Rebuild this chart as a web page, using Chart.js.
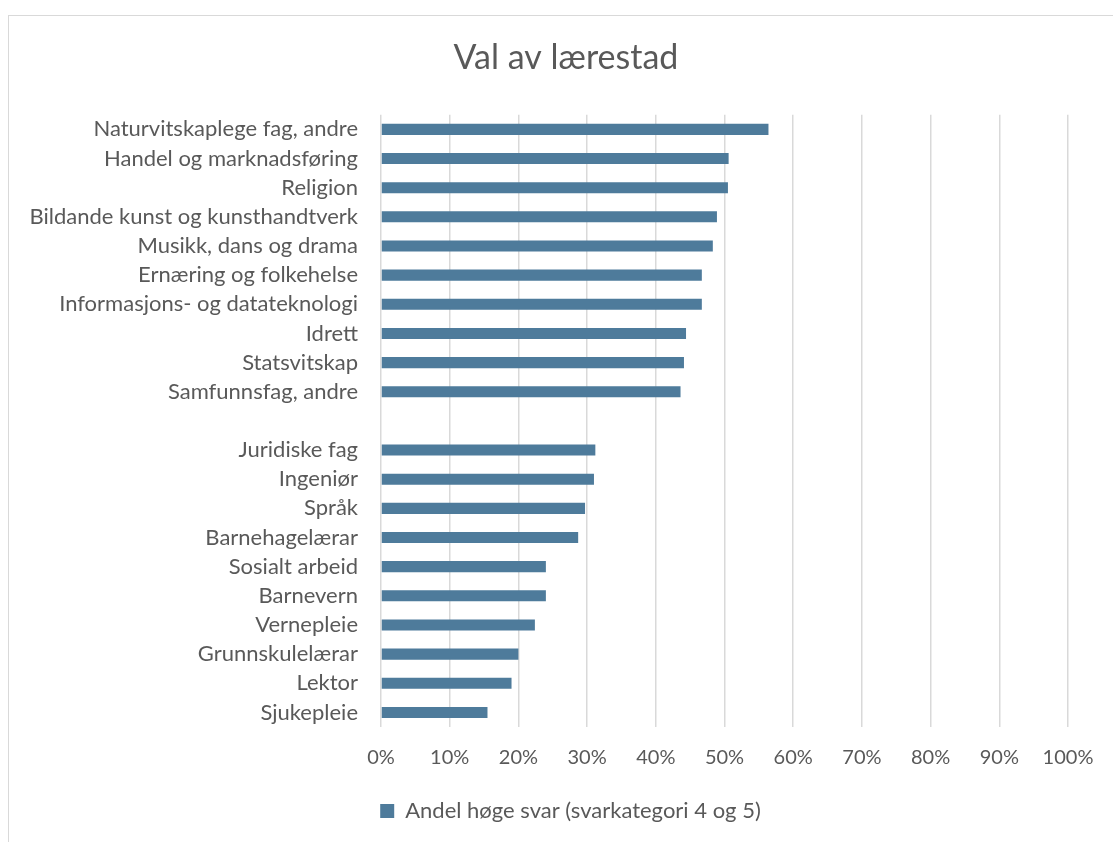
<!DOCTYPE html>
<html>
<head>
<meta charset="utf-8">
<script src="https://cdn.jsdelivr.net/npm/chart.js@4"></script>
<style>
  html, body { margin: 0; padding: 0; background: #fff; overflow: hidden; }
  #wrap { position: absolute; left: 8px; top: 15px; width: 1115px; height: 827px;
          border-left: 1px solid #d9d9d9; border-top: 1px solid #d9d9d9; }
  #c { display: block; }
</style>
</head>
<body>
<div id="wrap"><canvas id="c" width="1114" height="826"></canvas></div>
<script>
const chartTitle = 'Val av lærestad';
const seriesName = 'Andel høge svar (svarkategori 4 og 5)';
const categories = [
  'Naturvitskaplege fag, andre',
  'Handel og marknadsføring',
  'Religion',
  'Bildande kunst og kunsthandtverk',
  'Musikk, dans og drama',
  'Ernæring og folkehelse',
  'Informasjons- og datateknologi',
  'Idrett',
  'Statsvitskap',
  'Samfunnsfag, andre',
  '',
  'Juridiske fag',
  'Ingeniør',
  'Språk',
  'Barnehagelærar',
  'Sosialt arbeid',
  'Barnevern',
  'Vernepleie',
  'Grunnskulelærar',
  'Lektor',
  'Sjukepleie'
];
const values = [56.4, 50.6, 50.5, 48.9, 48.3, 46.7, 46.7, 44.4, 44.1, 43.6,
                null,
                31.2, 31.0, 29.7, 28.7, 24.0, 24.0, 22.4, 20.0, 19.0, 15.5];
const xTicks = [0, 10, 20, 30, 40, 50, 60, 70, 80, 90, 100];

const TEXT = '#595959';
const FONT = 'Lato';

// Center the title and legend on the whole chart box instead of the padded area
const centerBlocks = {
  id: 'centerBlocks',
  afterLayout(chart) {
    const t = chart.titleBlock;
    if (t) { t.left = 0; t.right = chart.width; t.width = chart.width; }
    const l = chart.legend;
    if (l) { l.left = 9; l.right = chart.width; l.width = chart.width - 9; }
  }
};

new Chart(document.getElementById('c'), {
  type: 'bar',
  data: {
    labels: categories,
    datasets: [{
      label: seriesName,
      data: values,
      backgroundColor: '#4e7b9b',
      borderWidth: 0,
      categoryPercentage: 1.0,
      barPercentage: 0.38
    }]
  },
  plugins: [centerBlocks],
  options: {
    indexAxis: 'y',
    responsive: false,
    animation: false,
    devicePixelRatio: 1,
    layout: { padding: { left: 0, right: 55, top: 0, bottom: 10 } },
    plugins: {
      title: {
        display: true,
        text: chartTitle,
        color: TEXT,
        font: { family: FONT, size: 34, weight: 'normal', lineHeight: 1.2 },
        padding: { top: 22, bottom: 36 }
      },
      legend: {
        display: true,
        position: 'bottom',
        labels: {
          color: TEXT,
          font: { family: FONT, size: 22 },
          boxWidth: 14,
          boxHeight: 14,
          padding: 10
        }
      },
      tooltip: { enabled: false }
    },
    scales: {
      x: {
        type: 'linear',
        min: 0,
        max: 100,
        afterBuildTicks: (s) => { s.ticks = xTicks.map(v => ({ value: v })); },
        afterFit: (s) => { s.height = 63; },
        ticks: {
          color: TEXT,
          font: { family: FONT, size: 20 },
          padding: 19,
          callback: (v) => v + '%'
        },
        grid: { color: '#d9d9d9', lineWidth: 1.5, drawTicks: false },
        border: { display: false }
      },
      y: {
        afterFit: (s) => { s.width = 372; },
        ticks: {
          color: TEXT,
          font: { family: FONT, size: 22 },
          padding: 23,
          autoSkip: false
        },
        grid: { display: false, drawTicks: false },
        border: { display: false }
      }
    }
  }
});
</script>
</body>
</html>
